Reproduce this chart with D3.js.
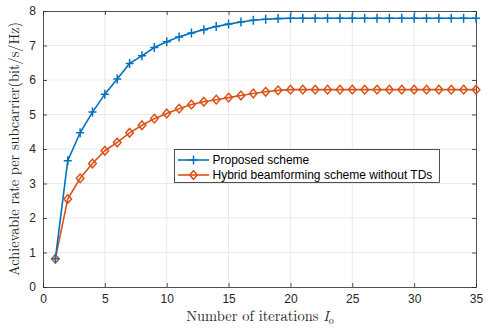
<!DOCTYPE html>
<html><head><meta charset="utf-8">
<script src="https://cdn.jsdelivr.net/npm/d3@7"></script>
<style>body{margin:0;background:#fff}</style>
</head><body>
<svg id="c" width="491" height="328"></svg>
<script>
const iterations = d3.range(1, 36);
const proposed = [0.82, 3.66, 4.47, 5.07, 5.59, 6.03, 6.48, 6.70, 6.94, 7.11, 7.25, 7.36, 7.46, 7.55, 7.62, 7.68, 7.73, 7.76, 7.78, 7.79,
  7.79, 7.79, 7.79, 7.79, 7.79, 7.79, 7.79, 7.79, 7.79, 7.79, 7.79, 7.79, 7.79, 7.79, 7.79];
const hybrid = [0.82, 2.55, 3.15, 3.58, 3.95, 4.19, 4.47, 4.69, 4.88, 5.03, 5.17, 5.29, 5.37, 5.43, 5.49, 5.55, 5.61, 5.66, 5.70, 5.72,
  5.72, 5.72, 5.72, 5.72, 5.72, 5.72, 5.72, 5.72, 5.72, 5.72, 5.72, 5.72, 5.72, 5.72, 5.72];
const xTicks = [0, 5, 10, 15, 20, 25, 30, 35];
const yTicks = [0, 1, 2, 3, 4, 5, 6, 7, 8];
const seriesNames = ["Proposed scheme", "Hybrid beamforming scheme without TDs"];

const svg = d3.select("#c");
const L = 43, R = 476, T = 11, B = 287;
const x = d3.scaleLinear().domain([0, 35]).range([L, R]);
const y = d3.scaleLinear().domain([0, 8]).range([B, T]);
const blue = "#0072BD", orange = "#D95319", axc = "#262626";

// grid
svg.append("g").selectAll("line.gx").data(xTicks.slice(1, -1)).join("line")
  .attr("x1", d => x(d)).attr("x2", d => x(d)).attr("y1", T).attr("y2", B)
  .attr("stroke", "#e3e3e3").attr("stroke-width", 0.8);
svg.append("g").selectAll("line.gy").data(yTicks.slice(1, -1)).join("line")
  .attr("y1", d => y(d)).attr("y2", d => y(d)).attr("x1", L).attr("x2", R)
  .attr("stroke", "#e3e3e3").attr("stroke-width", 0.8);

// axes
const fontTick = "'Liberation Sans', Arial, sans-serif";
const ax = svg.append("g").attr("transform", `translate(0,${B})`)
  .call(d3.axisBottom(x).tickValues(xTicks).tickSizeInner(-4).tickSizeOuter(0).tickPadding(7));
const ay = svg.append("g").attr("transform", `translate(${L},0)`)
  .call(d3.axisLeft(y).tickValues(yTicks).tickSizeInner(-4).tickSizeOuter(0).tickPadding(7));
const axT = svg.append("g").attr("transform", `translate(0,${T})`)
  .call(d3.axisTop(x).tickValues(xTicks).tickSizeInner(-4).tickSizeOuter(0).tickFormat(""));
const ayR = svg.append("g").attr("transform", `translate(${R},0)`)
  .call(d3.axisRight(y).tickValues(yTicks).tickSizeInner(-4).tickSizeOuter(0).tickFormat(""));
[ax, ay, axT, ayR].forEach(g => {
  g.select(".domain").attr("stroke", axc).attr("stroke-width", 0.8);
  g.selectAll(".tick line").attr("stroke", axc).attr("stroke-width", 0.8);
  g.selectAll("text").attr("font-family", fontTick).attr("font-size", 12).attr("fill", axc);
});

// lines
const line = d3.line().x((d, i) => x(iterations[i])).y(d => y(d));
svg.append("path").datum(hybrid).attr("d", line).attr("fill", "none").attr("stroke", orange).attr("stroke-width", 1.6);
svg.append("path").datum(proposed).attr("d", line).attr("fill", "none").attr("stroke", blue).attr("stroke-width", 1.6);

const diamond = (g, cx, cy) => g.append("path")
  .attr("d", `M${cx},${cy-4.3}L${cx+3.8},${cy}L${cx},${cy+4.3}L${cx-3.8},${cy}Z`)
  .attr("fill", "none").attr("stroke", orange).attr("stroke-width", 1.5);
const plus = (g, cx, cy) => g.append("path")
  .attr("d", `M${cx-4},${cy}H${cx+4}M${cx},${cy-4.5}V${cy+4.5}`)
  .attr("stroke", blue).attr("stroke-width", 1.5).attr("fill", "none");

const gm = svg.append("g");
hybrid.forEach((v, i) => diamond(gm, x(iterations[i]), y(v)));
proposed.forEach((v, i) => plus(gm, x(iterations[i]), y(v)));

// legend
const lg = svg.append("g");
lg.append("rect").attr("x", 174.5).attr("y", 149.5).attr("width", 265).attr("height", 33)
  .attr("fill", "#fff").attr("stroke", axc).attr("stroke-width", 0.8);
const rows = [{name: seriesNames[0], c: blue, m: plus, yy: 160}, {name: seriesNames[1], c: orange, m: diamond, yy: 175}];
rows.forEach(r => {
  lg.append("line").attr("x1", 178).attr("x2", 209).attr("y1", r.yy).attr("y2", r.yy).attr("stroke", r.c).attr("stroke-width", 1.6);
  r.m(lg, 193.5, r.yy);
  lg.append("text").attr("x", 212.5).attr("y", r.yy + 4.3).text(r.name)
    .attr("font-family", fontTick).attr("font-size", 12).attr("fill", "#000");
});

// axis labels
const fontSerif = "'Latin Modern Roman','CMU Serif','Liberation Serif','DejaVu Serif',serif";
const xl = svg.append("text").attr("x", 260).attr("y", 321).attr("text-anchor", "middle")
  .attr("font-family", fontSerif).attr("font-size", 14.5).attr("fill", axc);
xl.append("tspan").text("Number of iterations ");
xl.append("tspan").attr("font-style", "italic").text("I");
xl.append("tspan").attr("font-size", 10).attr("dy", 2.5).text("o");

svg.append("text").attr("transform", "translate(19,149) rotate(-90)").attr("text-anchor", "middle")
  .attr("font-family", fontSerif).attr("font-size", 14.3).attr("fill", axc)
  .text("Achievable rate per subcarrier(bit/s/Hz)");
</script>
</body></html>
